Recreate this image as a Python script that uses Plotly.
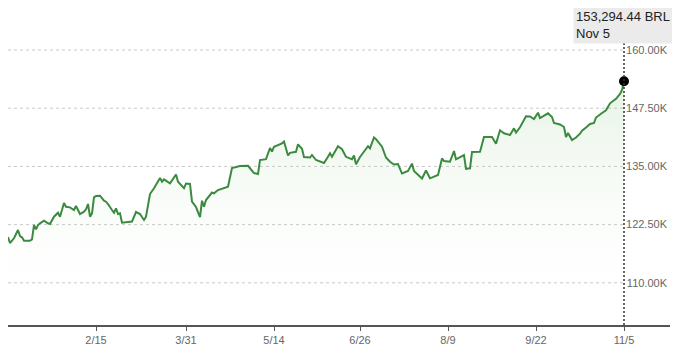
import pandas as pd
import plotly.graph_objects as go

start_date = "2024-01-02"
days_since_start = [
    0, 1, 3, 5, 6, 7, 8, 11, 12, 13,
    14, 15, 16, 18, 20, 21, 23, 25, 26, 28,
    29, 31, 33, 34, 36, 38, 39, 40, 41, 42,
    43, 44, 46, 48, 49, 50, 52, 53, 54, 55,
    56, 57, 62, 64, 66, 68, 69, 71, 73, 76,
    77, 78, 81, 84, 85, 88, 89, 91, 92, 94,
    96, 97, 98, 99, 102, 103, 105, 110, 112, 116,
    120, 123, 125, 126, 129, 131, 132, 133, 137, 138,
    140, 141, 144, 145, 147, 148, 151, 152, 154, 158,
    160, 161, 162, 165, 167, 169, 172, 173, 174, 176,
    180, 181, 183, 184, 187, 189, 191, 193, 195, 197,
    200, 202, 203, 207, 209, 211, 215, 217, 218, 221,
    223, 224, 228, 229, 231, 232, 236, 238, 242, 244,
    246, 248, 251, 253, 254, 256, 259, 261, 263, 265,
    266, 270, 272, 273, 276, 278, 279, 280, 282, 284,
    286, 287, 289, 291, 293, 294, 297, 299, 301, 304,
    306, 307, 308,
]
values_k = [
    119.84, 118.55, 119.56, 121.34, 120.05, 119.77, 119.04, 119.04, 119.30, 122.41,
    121.49, 122.41, 122.78, 123.34, 122.78, 122.63, 124.20, 125.06, 124.20, 127.14,
    126.34, 126.21, 125.64, 126.49, 124.78, 125.27, 125.79, 126.92, 124.20, 124.93,
    128.36, 128.64, 128.71, 127.63, 127.42, 126.92, 125.64, 125.06, 126.00, 124.78,
    124.93, 122.91, 123.16, 125.21, 124.78, 123.49, 124.20, 129.07, 130.30, 132.51,
    131.71, 132.23, 131.37, 133.26, 131.71, 130.30, 131.33, 131.22, 127.42, 126.28,
    124.13, 127.63, 126.34, 127.78, 129.39, 129.22, 129.93, 130.64, 134.66, 135.09,
    135.13, 133.58, 133.37, 136.37, 136.55, 138.95, 138.20, 139.23, 139.96, 140.35,
    137.34, 137.92, 138.14, 139.75, 138.78, 137.02, 136.91, 137.45, 136.37, 135.73,
    137.08, 137.81, 137.08, 139.32, 138.69, 137.06, 136.55, 137.34, 135.47, 137.02,
    139.34, 138.89, 141.21, 140.84, 139.23, 136.91, 136.01, 135.41, 135.52, 133.47,
    134.01, 135.60, 134.01, 132.40, 134.12, 132.44, 133.15, 136.70, 136.16, 136.01,
    138.31, 136.52, 137.45, 134.48, 134.59, 138.09, 138.16, 141.31, 141.31, 139.88,
    142.75, 142.11, 141.74, 143.18, 142.28, 143.40, 145.76, 145.72, 145.18, 146.53,
    145.39, 146.40, 145.61, 144.32, 144.00, 143.46, 141.31, 142.17, 140.67, 141.21,
    142.02, 142.65, 143.35, 144.11, 144.32, 145.50, 146.47, 147.05, 148.55, 149.52,
    150.55, 151.41, 153.29444,
]
x_tick_dates = ["2024-02-15", "2024-03-31", "2024-05-14", "2024-06-26",
                "2024-08-09", "2024-09-22", "2024-11-05"]
x_tick_labels = ["2/15", "3/31", "5/14", "6/26", "8/9", "9/22", "11/5"]
y_tick_values = [110000, 122500, 135000, 147500, 160000]
y_tick_labels = ["110.00K", "122.50K", "135.00K", "147.50K", "160.00K"]
currency = "BRL"
last_label_date = "Nov 5"

dates = pd.Timestamp(start_date) + pd.to_timedelta(days_since_start, unit="D")
values = [v * 1000 for v in values_k]

LINE = "#3b8a40"
FONT = "Liberation Sans, Arial, sans-serif"
x_min, x_max = "2024-01-02", "2024-11-28"
y_min, y_max = 100940, 164296

fig = go.Figure()
fig.add_trace(go.Scatter(
    x=dates, y=values, mode="lines",
    line=dict(color=LINE, width=2),
    fill="tozeroy",
    fillgradient=dict(type="vertical", start=y_min, stop=max(values),
                      colorscale=[[0, "rgba(255,255,255,0)"],
                                  [1, "rgba(120,190,110,0.18)"]]),
    hoverinfo="skip", showlegend=False,
))
fig.add_trace(go.Scatter(
    x=[dates[-1]], y=[values[-1]], mode="markers",
    marker=dict(color="black", size=10),
    hoverinfo="skip", showlegend=False,
))

shapes = []
for v in y_tick_values:
    shapes.append(dict(type="line", xref="x", yref="y",
                       x0=dates[0], x1=dates[-1], y0=v, y1=v,
                       line=dict(color="#c8c8c8", width=1, dash="3px,3px"),
                       layer="below"))
shapes.append(dict(type="line", xref="x", yref="paper",
                   x0=dates[-1], x1=dates[-1], y0=0, y1=0.966,
                   line=dict(color="#333333", width=1.5, dash="2px,2px")))
fig.update_layout(shapes=shapes)

fig.add_annotation(
    xref="paper", yref="paper", x=0.8535, y=1.017,
    xanchor="left", yanchor="middle", align="left",
    text=f"{values[-1]:,.2f} {currency}<br>{last_label_date}",
    showarrow=False,
    font=dict(family=FONT, size=13, color="#222222"),
    bgcolor="#ebebeb", borderpad=2,
)

fig.update_xaxes(
    type="date", range=[x_min, x_max],
    showgrid=False, zeroline=False,
    showline=True, linecolor="#555555", linewidth=1.5,
    ticks="outside", ticklen=4, tickcolor="#555555", tickwidth=1,
    tickvals=x_tick_dates, ticktext=x_tick_labels,
    tickfont=dict(family=FONT, size=11, color="#666666"),
)
fig.update_yaxes(
    range=[y_min, y_max], side="right", ticklabelposition="inside",
    showgrid=False, zeroline=False, showline=False, ticks="",
    tickvals=y_tick_values, ticktext=y_tick_labels,
    tickfont=dict(family=FONT, size=11, color="#666666"),
)
# the page body has an 8px default margin, so the figure is sized/offset for it
fig.update_layout(
    width=672, height=353,
    margin=dict(l=0, r=10, t=22, b=36),
    plot_bgcolor="white", paper_bgcolor="white",
)
fig.write_html("out.html")
